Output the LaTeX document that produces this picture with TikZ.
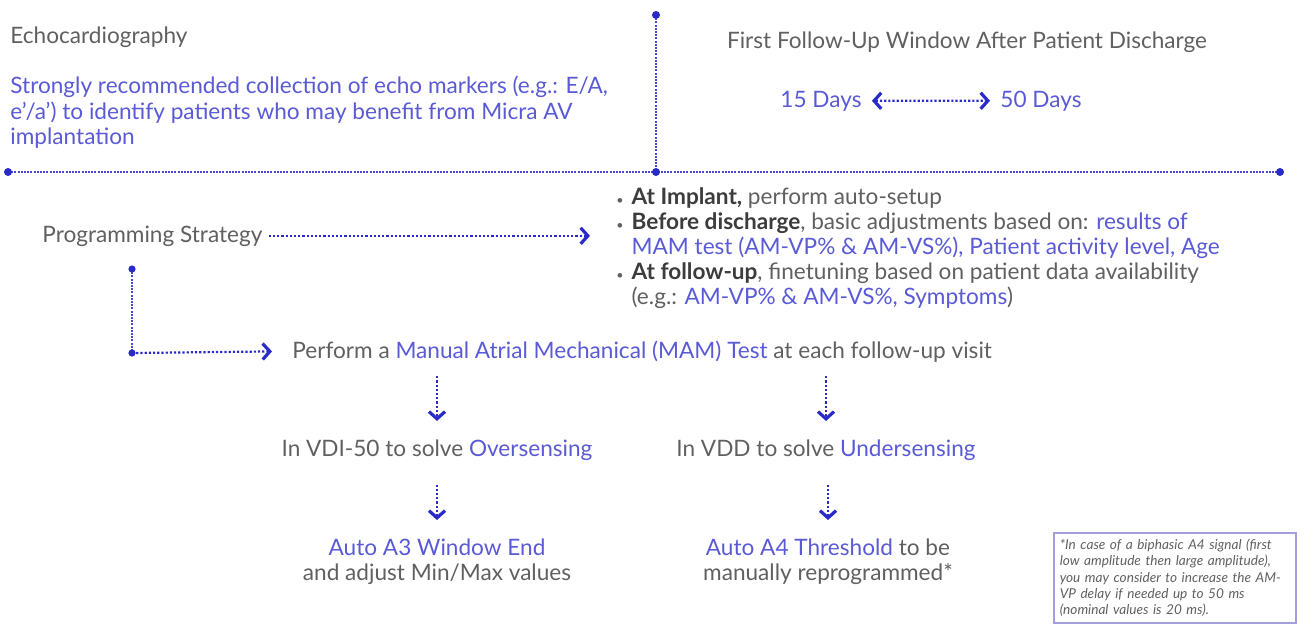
\documentclass[tikz,border=0pt]{standalone}
\usepackage{fontspec}
\setmainfont{Lato}
\usepackage{tikz}
\usetikzlibrary{arrows.meta,positioning}
\usepackage{xcolor}
\definecolor{inkblue}{HTML}{2A2AC8}
\definecolor{softblue}{HTML}{5A5AD6}
\definecolor{labelgray}{HTML}{606060}
\definecolor{boldgray}{HTML}{3C3C3C}
\definecolor{boxlilac}{HTML}{A39FDD}
\newcommand{\bluetext}[1]{\textcolor{softblue}{#1}}
\newcommand{\boldlead}[1]{\textcolor{boldgray}{\textbf{#1}}}
\newcommand{\smalldot}{\scalebox{0.55}{\textbullet}}

\begin{document}
\begin{tikzpicture}[x=0.5pt, y=-0.5pt, >={Straight Barb[length=3.6pt,width=8pt,line width=1.6pt]},
  lbl/.style={font=\fontsize{11.3}{12.6}\selectfont, text=labelgray, inner sep=0pt},
  link/.style={inkblue, densely dotted, line width=1.1pt},
  rule/.style={inkblue!85, dash pattern=on 1pt off 0.6pt, line width=0.7pt}]
  \useasboundingbox (0,0) rectangle (1306,634);
  \coordinate (vtop) at (656,15);
  \coordinate (hleft) at (8,172);
  \coordinate (hmid) at (656,172);
  \coordinate (hright) at (1280,172);
  \draw[rule] (vtop) -- (hmid);
  \draw[rule] (hleft) -- (hright);
  \foreach \p in {vtop,hleft,hmid,hright} \fill[inkblue] (\p) circle (2pt);

  \node[lbl, anchor=base west] (echo) at (10,43) {Echocardiography};
  \node[lbl, anchor=north west, align=left, text=softblue] (markers) at (10,76)
  {Strongly recommended collection of echo markers (e.g.: E/A,\\
   e’/a’) to identify patients who may benefit from Micra AV\\
   implantation};

  \node[lbl, anchor=base] (window) at (967,48) {First Follow-Up Window After Patient Discharge};
  \node[lbl, anchor=base west, text=softblue] (fifteen) at (780,107) {15 Days};
  \node[lbl, anchor=base west, text=softblue] (fifty) at (1000,107) {50 Days};
  \draw[link, <->, shorten <=5pt, shorten >=5pt] (fifteen) -- (fifty);

  \node[lbl, anchor=base west] (progr) at (42,242) {Programming Strategy};
  \node[lbl, anchor=north west] (plan) at (616,186)
  {\begin{tabular}{@{}c@{\hspace{4pt}}l@{}}
   \smalldot & \boldlead{At Implant,} perform auto-setup\\
   \smalldot & \boldlead{Before discharge}, basic adjustments based on: \bluetext{results of}\\
             & \bluetext{MAM test (AM-VP\% \& AM-VS\%), Patient activity level, Age}\\
   \smalldot & \boldlead{At follow-up}, finetuning based on patient data availability\\
             & (e.g.: \bluetext{AM-VP\% \& AM-VS\%, Symptoms})
   \end{tabular}};
  \draw[link, ->, shorten <=3pt, shorten >=13pt] (progr) -- (progr -| plan.west);

  \node[lbl, anchor=base west] (mamtest) at (292,358)
  {Perform a \bluetext{Manual Atrial Mechanical (MAM) Test} at each follow-up visit};
  \coordinate (elbowtop) at (132,269);
  \coordinate (elbow) at (132,353);
  \draw[rule] (elbowtop) -- (elbow);
  \draw[link, ->, shorten >=10pt] (elbow) -- (mamtest.west);
  \foreach \p in {elbowtop,elbow} \fill[inkblue] (\p) circle (1.8pt);

  \node[lbl, anchor=base] (vdi) at (437,456) {In VDI-50 to solve \bluetext{Oversensing}};
  \node[lbl, anchor=base] (vdd) at (826,456) {In VDD to solve \bluetext{Undersensing}};
  \draw[link, ->, shorten <=7pt, shorten >=9pt] (vdi.north |- mamtest.south) -- (vdi.north);
  \draw[link, ->, shorten <=7pt, shorten >=9pt] (vdd.north |- mamtest.south) -- (vdd.north);

  \node[lbl, anchor=north, align=center] (autoA3) at (437,538)
  {\bluetext{Auto A3 Window End}\\and adjust Min/Max values};
  \node[lbl, anchor=north, align=center] (autoA4) at (828,538)
  {\bluetext{Auto A4 Threshold} to be\\manually reprogrammed*};
  \draw[link, ->, shorten <=12pt, shorten >=9pt] (autoA3.north |- vdi.south) -- (autoA3.north);
  \draw[link, ->, shorten <=12pt, shorten >=9pt] (autoA4.north |- vdd.south) -- (autoA4.north);

  \node[draw=boxlilac, line width=0.8pt, anchor=north west, inner sep=3pt, align=left,
        text width=115pt, text=labelgray, font=\fontsize{6.8}{8.2}\selectfont\itshape] (note) at (1053,532)
  {*In case of a biphasic A4 signal (first\\
   low amplitude then large amplitude),\\
   you may consider to increase the AM-\\
   VP delay if needed up to 50 ms\\
   (nominal values is 20 ms).};
\end{tikzpicture}
\end{document}
